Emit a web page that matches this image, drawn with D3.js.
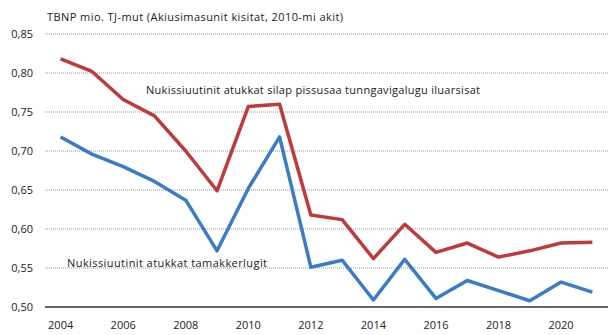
<html>
<head>
<style>
    body { margin:0; background:white; }
    text { font-family:'Open Sans', sans-serif; fill:#222; }
    .grid line { stroke:#999; stroke-dasharray:1,1; }
</style>
</head>
<body>
<div id="chart"></div>
<script src="https://cdn.jsdelivr.net/npm/d3@7"></script>
<script>
var years = [2004,2005,2006,2007,2008,2009,2010,2011,2012,2013,2014,2015,2016,2017,2018,2019,2020,2021];
var adjusted = [0.818,0.802,0.766,0.745,0.700,0.649,0.757,0.760,0.618,0.612,0.562,0.606,0.570,0.582,0.564,0.572,0.582,0.583];
var total = [0.718,0.696,0.680,0.661,0.637,0.572,0.652,0.718,0.551,0.560,0.509,0.561,0.511,0.534,0.521,0.508,0.532,0.519];
var yTicks = [0.50,0.55,0.60,0.65,0.70,0.75,0.80,0.85];
var xTickYears = [2004,2006,2008,2010,2012,2014,2016,2018,2020];

var title = "TBNP mio. TJ-mut (Akiusimasunit kisitat, 2010-mi akit)";
var labelAdjusted = "Nukissiuutinit atukkat silap pissusaa tunngavigalugu iluarsisat";
var labelTotal = "Nukissiuutinit atukkat tamakkerlugit";

var width = 614, height = 335;
var svg = d3.select("#chart").append("svg")
    .attr("width", width).attr("height", height);

var x = d3.scalePoint().domain(years).range([45, 608]).padding(0.5);
var y = d3.scaleLinear().domain([0.50, 0.85]).range([307, 34]);

// grid
svg.append("g").attr("class","grid")
  .selectAll("line").data(yTicks.slice(1)).enter().append("line")
  .attr("x1",45).attr("x2",608)
  .attr("y1",function(d){return y(d);}).attr("y2",function(d){return y(d);});
svg.append("line").attr("x1",45).attr("x2",608)
  .attr("y1",y(0.5)).attr("y2",y(0.5))
  .attr("stroke","#333").attr("stroke-width",1.5);

// y labels
svg.append("g").selectAll("text").data(yTicks).enter().append("text")
  .attr("x",33).attr("y",function(d){return y(d);})
  .attr("dy","0.35em").attr("text-anchor","end")
  .style("font-size","11px")
  .text(function(d){return d.toFixed(2).replace(".",",");});

// x labels
svg.append("g").selectAll("text").data(xTickYears).enter().append("text")
  .attr("x",function(d){return x(d);}).attr("y",325)
  .attr("dy","0.35em").attr("text-anchor","middle")
  .style("font-size","11px")
  .text(function(d){return d;});

var line = d3.line().x(function(d,i){return x(years[i]);}).y(function(d){return y(d);});

svg.append("path").datum(adjusted).attr("d",line)
  .attr("fill","none").attr("stroke","#c0393b").attr("stroke-width",3.5).attr("stroke-linejoin","round");
svg.append("path").datum(total).attr("d",line)
  .attr("fill","none").attr("stroke","#3b7cc8").attr("stroke-width",3.5).attr("stroke-linejoin","round");

svg.append("text").attr("x",47).attr("y",17).attr("dy","0.35em")
  .attr("textLength",296).attr("lengthAdjust","spacing")
  .style("font-size","11px").text(title);
svg.append("text").attr("x",146).attr("y",90).attr("dy","0.35em")
  .attr("textLength",334).attr("lengthAdjust","spacing")
  .style("font-size","11px").text(labelAdjusted);
svg.append("text").attr("x",67).attr("y",263).attr("dy","0.35em")
  .attr("textLength",200).attr("lengthAdjust","spacing")
  .style("font-size","11px").text(labelTotal);
</script>
</body>
</html>
